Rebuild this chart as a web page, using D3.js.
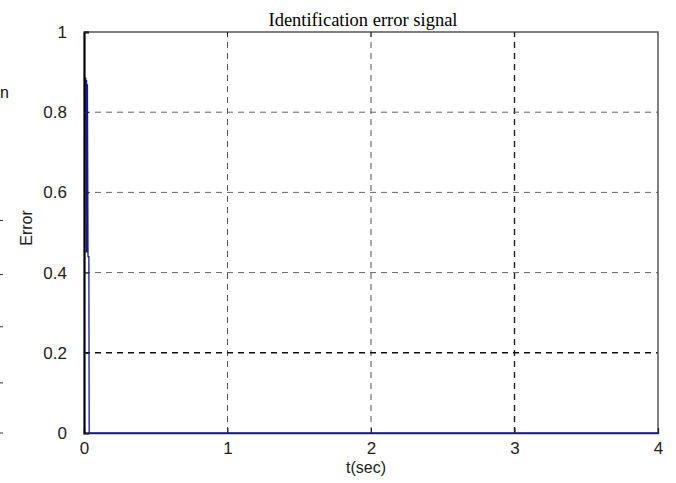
<!DOCTYPE html>
<html>
<head>
<script src="https://cdnjs.cloudflare.com/ajax/libs/d3/7.8.5/d3.min.js"></script>
<style>
  body { margin: 0; background: #fff; }
  svg { display: block; }
</style>
</head>
<body>
<div id="vis"></div>
<script type="text/javascript">
  // identification error
  const timeSec = [0.008, 0.012, 0.015, 0.018, 0.021, 0.024, 0.028, 0.034, 0.036, 4.0];
  const errorVal = [0.885, 0.885, 0.45, 0.88, 0.45, 0.87, 0.44, 0.44, 0.0, 0.0];
  const xTicks = [0, 1, 2, 3, 4];
  const yTicks = [0, 0.2, 0.4, 0.6, 0.8, 1];
  const yTickLabels = ["0", "0.2", "0.4", "0.6", "0.8", "1"];

  const width = 676, height = 483;
  const margin = {left: 84, right: 18, top: 32, bottom: 50};

  const svg = d3.select("#vis").append("svg")
    .attr("width", width)
    .attr("height", height);

  const x = d3.scaleLinear().domain([0, 4]).range([margin.left, width - margin.right]);
  const y = d3.scaleLinear().domain([0, 1]).range([height - margin.bottom, margin.top]);

  // grid
  svg.append("g").selectAll("line")
    .data(xTicks.slice(1, -1))
    .join("line")
    .attr("x1", d => x(d)).attr("x2", d => x(d))
    .attr("y1", y(0)).attr("y2", y(1))
    .attr("stroke", d => d === 3 ? "#222" : "#555")
    .attr("stroke-width", d => d === 3 ? 1.4 : 1)
    .attr("stroke-dasharray", "6,5");
  svg.append("g").selectAll("line")
    .data(yTicks.slice(1, -1))
    .join("line")
    .attr("x1", x(0)).attr("x2", x(4))
    .attr("y1", d => y(d)).attr("y2", d => y(d))
    .attr("stroke", d => d === 0.2 ? "#111" : "#666")
    .attr("stroke-width", d => d === 0.2 ? 1.5 : 1)
    .attr("stroke-dasharray", "6,5");

  // box (top, right)
  svg.append("path")
    .attr("d", `M${x(0)},${y(1)}H${x(4)}V${y(0)}`)
    .attr("fill", "none")
    .attr("stroke", "#555")
    .attr("stroke-width", 1.5);

  // inner ticks on top
  svg.append("g").selectAll("line")
    .data(xTicks.slice(1, -1))
    .join("line")
    .attr("x1", d => x(d)).attr("x2", d => x(d))
    .attr("y1", y(1)).attr("y2", y(1) + 5)
    .attr("stroke", "#222");

  // signal
  svg.append("path")
    .datum(timeSec.map((t, i) => [t, errorVal[i]]))
    .attr("fill", "none")
    .attr("stroke", "#1a1a8c")
    .attr("stroke-width", 1.3)
    .attr("d", d3.line().x(d => x(d[0])).y(d => y(d[1])));

  // axes
  const xAxis = d3.axisBottom(x).tickValues(xTicks).tickSize(-5).tickPadding(9).tickFormat(d3.format("d"));
  const yAxis = d3.axisLeft(y).tickValues(yTicks).tickSize(-5).tickPadding(17)
    .tickFormat((d, i) => yTickLabels[i]);

  const gx = svg.append("g").attr("transform", `translate(0,${y(0)})`).call(xAxis);
  gx.select(".domain").attr("stroke", "#1a1a8c").attr("stroke-width", 1.3);
  const gy = svg.append("g").attr("transform", `translate(${x(0)},0)`).call(yAxis);
  gy.select(".domain").attr("stroke", "#000").attr("stroke-width", 2.2);

  [gx, gy].forEach(g => {
    g.selectAll("text")
      .attr("font-family", "Liberation Sans, Arial, sans-serif")
      .attr("font-size", 17)
      .attr("fill", "#222");
    g.selectAll(".tick line").attr("stroke", "#222");
  });

  // labels
  svg.append("text")
    .attr("x", 363)
    .attr("y", 26)
    .attr("text-anchor", "middle")
    .attr("font-family", "Liberation Serif, Times New Roman, serif")
    .attr("font-size", 18.5)
    .attr("fill", "#000")
    .text("Identification error signal");

  svg.append("text")
    .attr("x", x(2) - 5)
    .attr("y", 473)
    .attr("text-anchor", "middle")
    .attr("font-family", "Liberation Sans, Arial, sans-serif")
    .attr("font-size", 16)
    .attr("fill", "#222")
    .text("t(sec)");

  svg.append("text")
    .attr("transform", `translate(32,228) rotate(-90)`)
    .attr("text-anchor", "middle")
    .attr("font-family", "Liberation Sans, Arial, sans-serif")
    .attr("font-size", 16)
    .attr("fill", "#222")
    .text("Error");

  // cropped remnants of a neighbouring figure on the far left
  svg.append("text")
    .attr("x", 0).attr("y", 98)
    .attr("font-family", "Liberation Sans, Arial, sans-serif")
    .attr("font-size", 16)
    .attr("fill", "#111")
    .text("n");
  svg.append("g").selectAll("line")
    .data([0.53, 0.395, 0.265, 0.125, 0.0])
    .join("line")
    .attr("x1", 0).attr("x2", 3)
    .attr("y1", d => y(d)).attr("y2", d => y(d))
    .attr("stroke", "#333");
</script>
</body>
</html>
